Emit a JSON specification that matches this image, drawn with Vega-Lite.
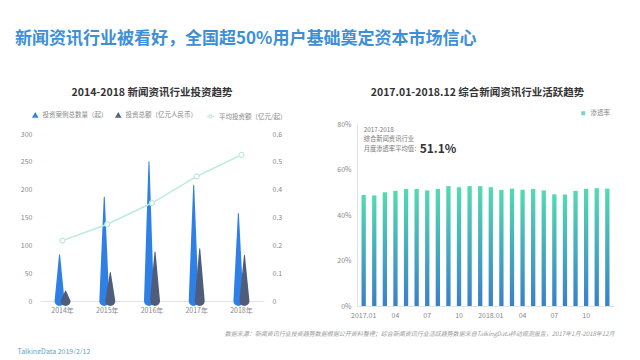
{
  "$schema": "https://vega.github.io/schema/vega-lite/v6.json",
  "background": "white",
  "padding": {"left": 15, "top": 29, "right": 5, "bottom": 0},
  "bounds": "flush",
  "config": {
    "font": "Noto Sans CJK SC",
    "view": {"stroke": null},
    "concat": {"spacing": 93},
    "axis": {"labelColor": "#888", "labelFontSize": 7, "ticks": false, "grid": false, "domainColor": "#e3e3e3", "labelFont": "Noto Sans CJK SC"},
    "legend": {"labelColor": "#888", "labelFontSize": 6.5, "labelFont": "Noto Sans CJK SC"}
  },
  "title": {
    "text": "新闻资讯行业被看好，全国超50%用户基础奠定资本市场信心",
    "anchor": "start",
    "fontSize": 17,
    "fontWeight": "bold",
    "color": "#3d8fd8",
    "offset": 40,
    "dx": -2
  },
  "resolve": {"scale": {"color": "independent"}, "legend": {"color": "independent"}},
  "datasets": {
    "invest": [
      {"year": "2014年", "count": 83, "amount": 18, "avg": 0.217, "base": 0},
      {"year": "2015年", "count": 187, "amount": 51, "avg": 0.276, "base": 0},
      {"year": "2016年", "count": 250, "amount": 88, "avg": 0.352, "base": 0},
      {"year": "2017年", "count": 208, "amount": 94, "avg": 0.448, "base": 0},
      {"year": "2018年", "count": 157, "amount": 82, "avg": 0.525, "base": 0}
    ],
    "rate": [
      {"month": "2017.01", "rate": 0.488},
      {"month": "2017.02", "rate": 0.486},
      {"month": "2017.03", "rate": 0.500},
      {"month": "2017.04", "rate": 0.506},
      {"month": "2017.05", "rate": 0.514},
      {"month": "2017.06", "rate": 0.514},
      {"month": "2017.07", "rate": 0.508},
      {"month": "2017.08", "rate": 0.514},
      {"month": "2017.09", "rate": 0.527},
      {"month": "2017.10", "rate": 0.522},
      {"month": "2017.11", "rate": 0.527},
      {"month": "2017.12", "rate": 0.527},
      {"month": "2018.01", "rate": 0.522},
      {"month": "2018.02", "rate": 0.510},
      {"month": "2018.03", "rate": 0.516},
      {"month": "2018.04", "rate": 0.511},
      {"month": "2018.05", "rate": 0.514},
      {"month": "2018.06", "rate": 0.508},
      {"month": "2018.07", "rate": 0.491},
      {"month": "2018.08", "rate": 0.490},
      {"month": "2018.09", "rate": 0.506},
      {"month": "2018.10", "rate": 0.515},
      {"month": "2018.11", "rate": 0.518},
      {"month": "2018.12", "rate": 0.516}
    ]
  },
  "hconcat": [
    {
      "width": 224,
      "height": 177,
      "title": {"text": "2014-2018  新闻资讯行业投资趋势", "fontSize": 10.5, "fontWeight": "bold", "color": "#333", "offset": 14},
      "data": {"name": "invest"},
      "layer": [
        {
          "transform": [
            {"fold": ["count", "amount"], "as": ["series", "value"]},
            {"fold": ["base", "value"], "as": ["end", "v"]}
          ],
          "mark": {"type": "trail"},
          "encoding": {
            "x": {"field": "year", "type": "ordinal", "scale": {"paddingInner": 0.73, "paddingOuter": 0.37}, "axis": {"labelAngle": 0, "labelPadding": 5, "title": "TalkingData   2019/2/12", "titleFontSize": 7, "titleColor": "#5aa6c8", "titleFontWeight": "normal", "titleAnchor": "start", "titleAlign": "left", "titlePadding": 34, "titleX": -23}},
            "xOffset": {"field": "series", "scale": {"domain": ["count", "amount"]}},
            "y": {"field": "v", "type": "quantitative", "scale": {"domain": [0, 318], "nice": false}, "axis": {"values": [0, 50, 100, 150, 200, 250, 300], "domain": false, "title": null, "labelPadding": 8}},
            "color": {"field": "series", "type": "nominal", "scale": {"domain": ["count", "amount"], "range": ["#2f80e6", "#4f5d7a"]}, "legend": {"orient": "none", "legendX": -8, "legendY": -12, "direction": "horizontal", "title": null, "symbolType": "triangle-up", "symbolSize": 16, "labelExpr": "datum.value == 'count' ? '投资案例总数量（起）' : '投资总额（亿元人民币）'", "columnPadding": 5}},
            "size": {"field": "end", "type": "ordinal", "scale": {"domain": ["base", "value"], "range": [10, 0]}, "legend": null},
            "detail": {"field": "year"}
          }
        },
        {
          "mark": {"type": "line", "strokeWidth": 1.5, "point": {"filled": true, "fill": "white", "size": 25, "strokeWidth": 1.2}},
          "encoding": {
            "x": {"field": "year", "type": "ordinal"},
            "y": {"field": "avg", "type": "quantitative", "scale": {"domain": [0, 0.636], "nice": false}, "axis": {"orient": "right", "values": [0, 0.1, 0.2, 0.3, 0.4, 0.5, 0.6], "format": ".1~f", "domain": false, "title": null, "labelPadding": 8}},
            "stroke": {"datum": "平均投资额（亿元/起）", "scale": {"range": ["#b9ebdf"]}, "legend": {"orient": "none", "legendX": 166, "legendY": -12, "title": null, "symbolType": "M-1,0L-0.4,0M0.4,0L1,0M0.4,0A0.4,0.4,0,1,1,-0.4,0A0.4,0.4,0,1,1,0.4,0", "symbolSize": 60, "symbolStrokeWidth": 1.2}}
          }
        }
      ],
      "resolve": {"scale": {"y": "independent"}}
    },
    {
      "width": 257,
      "height": 182,
      "title": {"text": "2017.01-2018.12  综合新闻资讯行业活跃趋势", "fontSize": 10.5, "fontWeight": "bold", "color": "#333", "offset": 12, "dx": -8},
      "data": {"name": "rate"},
      "layer": [
        {
          "mark": {"type": "bar", "width": 4.3, "fill": {"gradient": "linear", "x1": 0, "y1": 0, "x2": 0, "y2": 1, "stops": [{"offset": 0, "color": "#52dbb0"}, {"offset": 1, "color": "#3a7fcb"}]}},
          "encoding": {
            "x": {"field": "month", "type": "ordinal", "scale": {"type": "band", "paddingInner": 0.6, "paddingOuter": 0.43}, "axis": {"labelAngle": 0, "labelPadding": 5, "labelExpr": "slice(datum.value, 5) == '01' ? datum.value : (indexof(['04','07','10'], slice(datum.value, 5)) >= 0 ? slice(datum.value, 5) : '')", "title": "数据来源：新闻资讯行业投资趋势数据根据公开资料整理；综合新闻资讯行业活跃趋势数据来自TalkingData移动观测报告，2017年1月-2018年12月", "titleFontSize": 6, "titleFontStyle": "italic", "titleFontWeight": "normal", "titleColor": "#999", "titleAnchor": "end", "titlePadding": 12}},
            "y": {"field": "rate", "type": "quantitative", "scale": {"domain": [0, 0.8]}, "axis": {"values": [0, 0.2, 0.4, 0.6, 0.8], "format": ".0%", "domain": true, "title": null, "labelPadding": 6}}
          }
        },
        {
          "transform": [{"filter": "datum.month == '2017.01'"}],
          "mark": {"type": "square", "size": 0},
          "encoding": {
            "x": {"field": "month", "type": "ordinal", "scale": {"type": "band", "paddingInner": 0.6, "paddingOuter": 0.43}},
            "y": {"datum": 0},
            "color": {"datum": "渗透率", "scale": {"range": ["#48bdb6"]}, "legend": {"orient": "none", "legendX": 223, "legendY": -14, "title": null, "symbolType": "square", "symbolSize": 16}}
          }
        },
        {
          "transform": [{"filter": "datum.month == '2017.01'"}],
          "mark": {"type": "text", "align": "left", "baseline": "middle", "fontSize": 6.3, "color": "#777"},
          "encoding": {
            "x": {"field": "month", "type": "ordinal", "scale": {"type": "band", "paddingInner": 0.6, "paddingOuter": 0.43}},
            "y": {"datum": 0.772},
            "text": {"value": "2017-2018"}
          }
        },
        {
          "transform": [{"filter": "datum.month == '2017.01'"}],
          "mark": {"type": "text", "align": "left", "baseline": "middle", "fontSize": 6.3, "color": "#777"},
          "encoding": {
            "x": {"field": "month", "type": "ordinal", "scale": {"type": "band", "paddingInner": 0.6, "paddingOuter": 0.43}},
            "y": {"datum": 0.735},
            "text": {"value": "综合新闻资讯行业"}
          }
        },
        {
          "transform": [{"filter": "datum.month == '2017.01'"}],
          "mark": {"type": "text", "align": "left", "baseline": "middle", "fontSize": 6.3, "color": "#777"},
          "encoding": {
            "x": {"field": "month", "type": "ordinal", "scale": {"type": "band", "paddingInner": 0.6, "paddingOuter": 0.43}},
            "y": {"datum": 0.69},
            "text": {"value": "月度渗透率平均值："}
          }
        },
        {
          "transform": [{"filter": "datum.month == '2017.01'"}],
          "mark": {"type": "text", "align": "left", "baseline": "middle", "fontSize": 12, "fontWeight": "bold", "color": "#333", "dx": 56},
          "encoding": {
            "x": {"field": "month", "type": "ordinal", "scale": {"type": "band", "paddingInner": 0.6, "paddingOuter": 0.43}},
            "y": {"datum": 0.69},
            "text": {"value": "51.1%"}
          }
        }
      ]
    }
  ]
}
